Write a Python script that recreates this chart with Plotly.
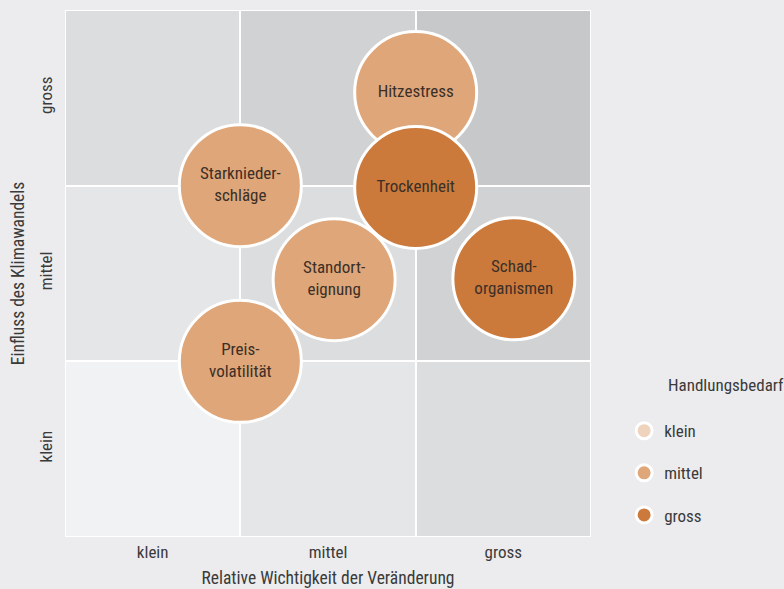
import plotly.graph_objects as go

# ---- data ----
levels = ["klein", "mittel", "gross"]
cell_x = [0.5, 1.5, 2.5]
cell_y = [0.5, 1.5, 2.5]
cell_z = [[0, 1, 2],
          [1, 2, 3],
          [2, 3, 4]]

names = ["Hitzestress", "Starknieder-<br>schläge", "Standort-<br>eignung",
         "Preis-<br>volatilität", "Trockenheit", "Schad-<br>organismen"]
wichtigkeit = [2.0, 1.0, 1.535, 1.0, 2.0, 2.56]
einfluss = [2.53, 2.0, 1.465, 1.0, 1.99, 1.47]
bedarf = ["mittel", "mittel", "mittel", "mittel", "gross", "gross"]

bedarf_levels = ["klein", "mittel", "gross"]
bedarf_colors = {"klein": "#EFD3BC", "mittel": "#DFA679", "gross": "#CB7A3C"}

FONT = "Roboto Condensed, Liberation Sans Narrow, Arial Narrow, Roboto, sans-serif"
TXT = "#3a3a3a"

fig = go.Figure()

fig.add_trace(go.Heatmap(
    x=cell_x, y=cell_y, z=cell_z,
    colorscale=[[0, "#F1F2F3"], [0.25, "#E5E6E8"], [0.5, "#DCDDDF"],
                [0.75, "#D1D2D4"], [1, "#C7C8CA"]],
    zmin=0, zmax=4, showscale=False, xgap=2, ygap=2,
    hoverinfo="skip", showlegend=False))

for lvl in bedarf_levels:
    idx = [i for i, b in enumerate(bedarf) if b == lvl]
    xs = [wichtigkeit[i] for i in idx] or [None]
    ys = [einfluss[i] for i in idx] or [None]
    ts = [names[i] for i in idx] or [""]
    fig.add_trace(go.Scatter(
        x=xs, y=ys, text=ts, mode="markers+text",
        textposition="middle center",
        textfont=dict(family=FONT, size=17, color="#3b2f27"),
        marker=dict(size=122, color=bedarf_colors[lvl],
                    line=dict(color="white", width=3), opacity=1),
        name=lvl, legendgroup=lvl, showlegend=True, cliponaxis=False))

fig.add_annotation(text="Handlungsbedarf", xref="paper", yref="paper",
                   x=1.143, y=0.288, xanchor="left", yanchor="middle",
                   showarrow=False, font=dict(family=FONT, size=17, color=TXT))

fig.update_layout(
    width=784, height=589,
    margin=dict(l=65, r=193, t=10, b=52, autoexpand=False),
    paper_bgcolor="#ECECEE", plot_bgcolor="white",
    font=dict(family=FONT, size=17, color=TXT),
    showlegend=True,
    legend=dict(x=1.063, y=0.235, xanchor="left", yanchor="top",
                bgcolor="rgba(0,0,0,0)", tracegroupgap=17,
                font=dict(family=FONT, size=17, color=TXT),
                itemsizing="trace"),
    xaxis=dict(range=[0, 3], tickvals=cell_x, ticktext=levels,
               showgrid=False, zeroline=False, ticks="", fixedrange=True,
               ticklabelstandoff=3, automargin=False,
               title=dict(text="Relative Wichtigkeit der Veränderung", standoff=10,
                          font=dict(family=FONT, size=17.5, color=TXT))),
    yaxis=dict(range=[0, 3], tickvals=cell_y, ticktext=levels, tickangle=-90,
               showgrid=False, zeroline=False, ticks="", fixedrange=True,
               ticklabelstandoff=9, automargin=False,
               title=dict(text="Einfluss des Klimawandels", standoff=6,
                          font=dict(family=FONT, size=17.5, color=TXT))),
)

fig.write_html("out.html", config={"displayModeBar": False},
               post_script="document.body.style.margin='0';"
                           "document.body.style.background='#ECECEE';")
